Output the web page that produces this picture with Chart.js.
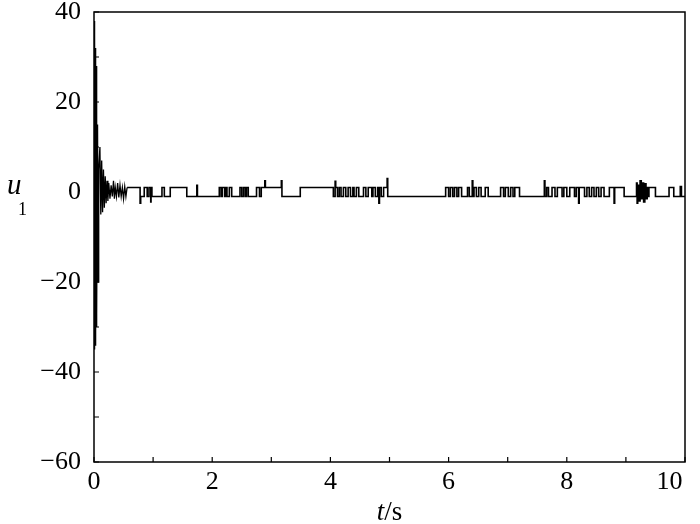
<!DOCTYPE html>
<html>
<head>
<meta charset="utf-8">
<script src="https://cdn.jsdelivr.net/npm/chart.js@4"></script>
<style>
html, body { margin: 0; padding: 0; background: #fff; }
</style>
</head>
<body>
<canvas id="uChart" width="700" height="524"></canvas>
<script>
// startup transient of u1 (t in s)
var transT = [0, 0.005, 0.01, 0.015, 0.02, 0.025, 0.03, 0.035, 0.04, 0.045, 0.05, 0.06, 0.07, 0.08,
              0.1, 0.115, 0.13, 0.145, 0.16, 0.175, 0.19, 0.205, 0.22, 0.235, 0.25, 0.27, 0.29, 0.31,
              0.33, 0.345, 0.36, 0.38, 0.4, 0.42, 0.44, 0.46, 0.48, 0.5, 0.52, 0.54, 0.56];
var transU = [0, 38, -35, 35, -34, 32, -31, 28, -30, 24, -27, 15, -20, 5,
              10, -5, 7, -4.5, 5, -3.5, 3.5, -2.5, 2.5, -2, 2, -1.5, 1.5, -1,
              2.5, -1.5, 1, -1, 2, -1.2, 1.5, -1, 1, -1.5, 1.2, -1, 1];

// switching part: value holds from each time until the next one
var switchT = [0.56, 0.78, 0.79, 0.85, 0.90, 0.93, 0.96, 0.965, 0.98, 1.15, 1.19, 1.29, 1.57, 1.74, 1.75,
               2.12, 2.15, 2.17, 2.21, 2.23, 2.25, 2.29, 2.33, 2.47, 2.50, 2.53, 2.56, 2.58, 2.61,
               2.75, 2.80, 2.83, 2.89, 2.90, 3.17, 3.18, 3.49, 4.05, 4.08, 4.09, 4.12, 4.15, 4.18,
               4.22, 4.26, 4.30, 4.34, 4.38, 4.40, 4.44, 4.48, 4.56, 4.60, 4.64, 4.70, 4.72, 4.76,
               4.80, 4.82, 4.83, 4.86, 4.90, 4.96, 4.97,
               5.95, 6.00, 6.03, 6.07, 6.10, 6.14, 6.17, 6.22, 6.32, 6.35, 6.40, 6.41, 6.43, 6.47,
               6.51, 6.55, 6.62, 6.67, 6.88, 6.93, 6.96, 7.01, 7.05, 7.09, 7.12, 7.20,
               7.62, 7.63, 7.66, 7.69, 7.75, 7.80, 7.84, 7.92, 7.95, 8.00, 8.05, 8.13, 8.16, 8.20,
               8.21, 8.30, 8.34, 8.38, 8.42, 8.46, 8.50, 8.54, 8.58, 8.63, 8.72, 8.80, 8.81, 8.97,
               9.18, 9.19, 9.20, 9.22, 9.24, 9.26, 9.28, 9.30, 9.32, 9.34, 9.36, 9.38, 9.39,
               9.50, 9.73, 9.81, 9.92, 9.94, 10];
var switchU = [1, -2.5, -1, 1, -1, 1, -2.2, 1, -1, 1, -1, 1, -1, 1.5, -1,
               1, -1, 1, -1, 1, -1, 1, -1, 1, -1, 1, -1, 1, -1,
               1, -1, 1, 2.5, 1, 2.5, -1, 1, -1, 2.4, 1, -1, 1, -1,
               1, -1, 1, -1, 1, -1, 1, -1, 1, -1, 1, -1, 1, -1,
               1, -2.5, 1, -1, 1, 3, -1,
               1, -1, 1, -1, 1, -1, 1, -1, 1, -1, 2.5, -1, 1, -1,
               1, -1, 1, -1, 1, -1, 1, -1, 1, -1, 1, -1,
               2.5, -1, 1, -1, 1, -1, 1, -1, 1, -1, 1, -1, 1, -2.5,
               1, -1, 1, -1, 1, -1, 1, -1, 1, -1, 1, -2.5, 1, -1,
               2, -2.5, 1.5, -2, 2.5, -1.5, 2, -2.2, 1.8, -1.5, 1, -1, 1,
               -1, 1, -1, 1.2, -1, -1];

var xTicks = [0, 2, 4, 6, 8, 10];
var yTicks = [-60, -40, -20, 0, 20, 40];

function pts(ts, us) {
    return ts.map(function(t, i) { return { x: t, y: us[i] }; });
}

var serif = '"Liberation Serif", "Times New Roman", serif';

var frame = {
    id: 'frame',
    afterDraw: function(chart) {
        var ctx = chart.ctx, a = chart.chartArea;
        var xs = chart.scales.x, ys = chart.scales.y;
        ctx.save();
        ctx.strokeStyle = '#000';
        ctx.lineWidth = 1.5;
        ctx.strokeRect(a.left, a.top, a.right - a.left, a.bottom - a.top);
        ctx.lineWidth = 1.2;
        ctx.beginPath();
        xs.ticks.forEach(function(tk) {
            var px = xs.getPixelForValue(tk.value);
            ctx.moveTo(px, a.bottom);
            ctx.lineTo(px, a.bottom - 5);
        });
        ys.ticks.forEach(function(tk) {
            var py = ys.getPixelForValue(tk.value);
            ctx.moveTo(a.left, py);
            ctx.lineTo(a.left + 5, py);
        });
        ctx.stroke();

        ctx.fillStyle = '#000';
        ctx.textBaseline = 'alphabetic';
        // x title: t/s
        ctx.font = 'italic 27px ' + serif;
        var w1 = ctx.measureText('t').width;
        ctx.font = '27px ' + serif;
        var w2 = ctx.measureText('/s').width;
        var x0 = (a.left + a.right) / 2 - (w1 + w2) / 2;
        ctx.font = 'italic 27px ' + serif;
        ctx.fillText('t', x0, 520);
        ctx.font = '27px ' + serif;
        ctx.fillText('/s', x0 + w1, 520);
        // y title: u with subscript 1
        ctx.font = 'italic 29px ' + serif;
        ctx.fillText('u', 7, 194);
        ctx.font = '18px ' + serif;
        ctx.fillText('1', 18, 215);
        ctx.restore();
    }
};

new Chart(document.getElementById('uChart').getContext('2d'), {
    type: 'line',
    data: {
        datasets: [{
            data: pts(transT, transU),
            borderColor: '#000',
            borderWidth: 1.3,
            pointRadius: 0,
            tension: 0
        }, {
            data: pts(switchT, switchU),
            borderColor: '#000',
            borderWidth: 1.6,
            pointRadius: 0,
            stepped: true
        }]
    },
    options: {
        responsive: false,
        animation: false,
        layout: { padding: { top: 12, right: 15, left: 0, bottom: 0 } },
        plugins: { legend: { display: false }, tooltip: { enabled: false } },
        scales: {
            x: {
                type: 'linear',
                min: 0,
                max: 10,
                grid: { display: false, drawTicks: false },
                border: { display: false },
                ticks: {
                    stepSize: 1,
                    padding: 5,
                    color: '#000',
                    font: { family: serif, size: 26 },
                    maxRotation: 0,
                    autoSkip: false,
                    callback: function(v) {
                        if (xTicks.indexOf(v) < 0) return '';
                        // last label sits inside the frame, as in the source figure
                        return v === 10 ? '10\u2003\u2009' : String(v);
                    }
                },
                afterFit: function(s) { s.height = 62; s.paddingLeft = 0; s.paddingRight = 0; }
            },
            y: {
                min: -60,
                max: 40,
                grid: { display: false, drawTicks: false },
                border: { display: false },
                ticks: {
                    stepSize: 10,
                    padding: 13,
                    color: '#000',
                    font: { family: serif, size: 26 },
                    autoSkip: false,
                    callback: function(v) { return yTicks.indexOf(v) >= 0 ? String(v).replace('-', '\u2212') : ''; }
                },
                afterFit: function(s) { s.width = 94; s.paddingTop = 0; s.paddingBottom = 0; }
            }
        }
    },
    plugins: [frame]
});
</script>
</body>
</html>
